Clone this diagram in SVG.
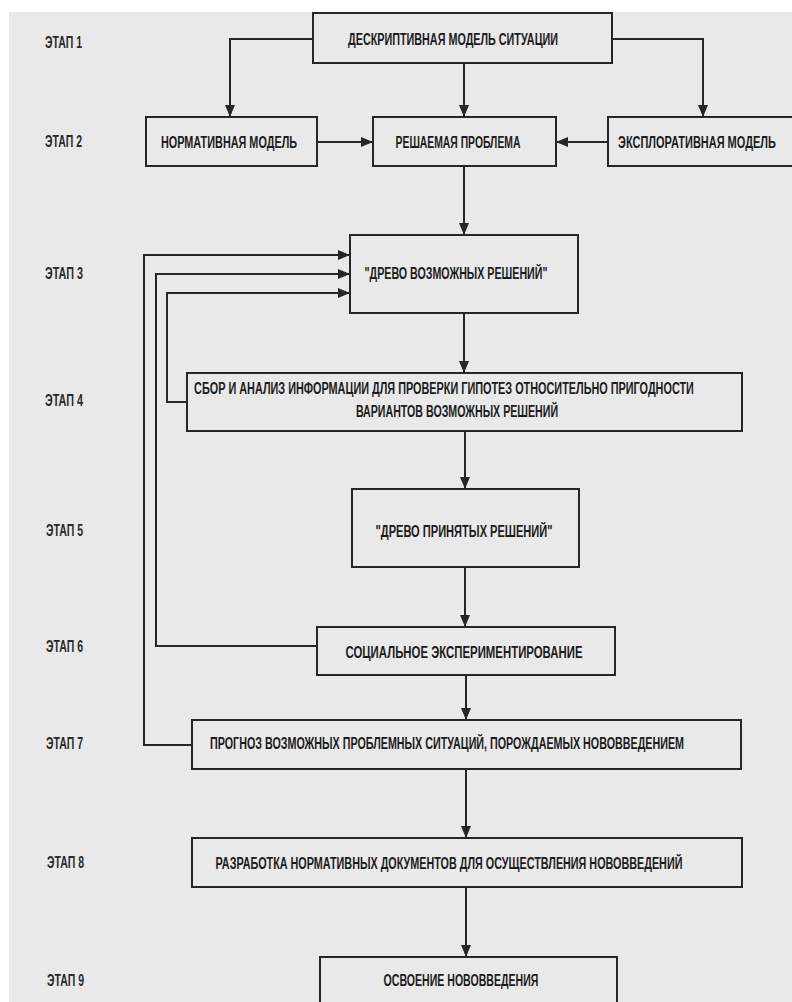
<svg xmlns="http://www.w3.org/2000/svg" width="792" height="1002" viewBox="0 0 792 1002">
<style>
.bg{fill:#e9e9e9}
.box{fill:none;stroke:#262626;stroke-width:2}
.c{fill:none;stroke:#262626;stroke-width:2}
.t{font-family:"Liberation Sans",Arial,sans-serif;font-weight:bold;font-size:17px;fill:#1c1c1c;text-anchor:middle}
.s{font-family:"Liberation Sans",Arial,sans-serif;font-weight:bold;font-size:16px;fill:#2a2a2a}
</style>
<defs>
<marker id="ah" viewBox="0 0 12 10" refX="12" refY="5" markerWidth="12" markerHeight="10" markerUnits="userSpaceOnUse" orient="auto">
<path d="M0,0 L12,5 L0,10 z" fill="#262626"/>
</marker>
</defs>
<rect x="0" y="0" width="792" height="1002" fill="#ffffff"/>
<rect class="bg" x="9" y="12" width="783" height="990"/>

<g id="stages">
<text class="s" x="45" y="48" textLength="37" lengthAdjust="spacingAndGlyphs">ЭТАП 1</text>
<text class="s" x="45" y="147" textLength="37" lengthAdjust="spacingAndGlyphs">ЭТАП 2</text>
<text class="s" x="45" y="279" textLength="38" lengthAdjust="spacingAndGlyphs">ЭТАП 3</text>
<text class="s" x="45" y="406" textLength="38" lengthAdjust="spacingAndGlyphs">ЭТАП 4</text>
<text class="s" x="46" y="536" textLength="37" lengthAdjust="spacingAndGlyphs">ЭТАП 5</text>
<text class="s" x="46" y="652" textLength="37" lengthAdjust="spacingAndGlyphs">ЭТАП 6</text>
<text class="s" x="46" y="749" textLength="37" lengthAdjust="spacingAndGlyphs">ЭТАП 7</text>
<text class="s" x="47" y="868" textLength="37" lengthAdjust="spacingAndGlyphs">ЭТАП 8</text>
<text class="s" x="47" y="986" textLength="37" lengthAdjust="spacingAndGlyphs">ЭТАП 9</text>
</g>

<g id="connectors">
<path class="c" d="M313,39 H230 V117" marker-end="url(#ah)"/>
<path class="c" d="M464,63 V117" marker-end="url(#ah)"/>
<path class="c" d="M612,39 H703 V117" marker-end="url(#ah)"/>
<path class="c" d="M317,142 H373" marker-end="url(#ah)"/>
<path class="c" d="M608,142 H556" marker-end="url(#ah)"/>
<path class="c" d="M464,166 V235" marker-end="url(#ah)"/>
<path class="c" d="M187,402 H167 V293 H350" marker-end="url(#ah)"/>
<path class="c" d="M317,646 H156 V274 H350" marker-end="url(#ah)"/>
<path class="c" d="M192,745 H144 V255 H350" marker-end="url(#ah)"/>
<path class="c" d="M464,313 V373" marker-end="url(#ah)"/>
<path class="c" d="M465,431 V489" marker-end="url(#ah)"/>
<path class="c" d="M465,567 V627" marker-end="url(#ah)"/>
<path class="c" d="M466,675 V720" marker-end="url(#ah)"/>
<path class="c" d="M466,769 V838" marker-end="url(#ah)"/>
<path class="c" d="M466,887 V957" marker-end="url(#ah)"/>
</g>

<g id="n1">
<rect class="box" x="313" y="13" width="299" height="50"/>
<text class="t" transform="translate(453,45) scale(0.6,1)" x="0" y="0" textLength="350" lengthAdjust="spacingAndGlyphs">ДЕСКРИПТИВНАЯ МОДЕЛЬ СИТУАЦИИ</text>
</g>
<g id="n2">
<rect class="box" x="146" y="117" width="171" height="49"/>
<text class="t" transform="translate(229,148) scale(0.6,1)" x="0" y="0" textLength="227" lengthAdjust="spacingAndGlyphs">НОРМАТИВНАЯ МОДЕЛЬ</text>
</g>
<g id="n3">
<rect class="box" x="373" y="117" width="183" height="49"/>
<text class="t" transform="translate(458,148) scale(0.6,1)" x="0" y="0" textLength="208" lengthAdjust="spacingAndGlyphs">РЕШАЕМАЯ ПРОБЛЕМА</text>
</g>
<g id="n4">
<rect class="box" x="608" y="117" width="186" height="49"/>
<text class="t" transform="translate(697,148) scale(0.6,1)" x="0" y="0" textLength="263" lengthAdjust="spacingAndGlyphs">ЭКСПЛОРАТИВНАЯ МОДЕЛЬ</text>
</g>
<g id="n5">
<rect class="box" x="350" y="235" width="228" height="78"/>
<text class="t" transform="translate(456,279) scale(0.6,1)" x="0" y="0" textLength="305" lengthAdjust="spacingAndGlyphs">"ДРЕВО ВОЗМОЖНЫХ РЕШЕНИЙ"</text>
</g>
<g id="n6">
<rect class="box" x="187" y="373" width="555" height="58"/>
<text class="t" transform="translate(444,394) scale(0.6,1)" x="0" y="0" textLength="833" lengthAdjust="spacingAndGlyphs">СБОР И АНАЛИЗ ИНФОРМАЦИИ ДЛЯ ПРОВЕРКИ ГИПОТЕЗ ОТНОСИТЕЛЬНО ПРИГОДНОСТИ</text>
<text class="t" transform="translate(457,417) scale(0.6,1)" x="0" y="0" textLength="337" lengthAdjust="spacingAndGlyphs">ВАРИАНТОВ ВОЗМОЖНЫХ РЕШЕНИЙ</text>
</g>
<g id="n7">
<rect class="box" x="352" y="489" width="227" height="78"/>
<text class="t" transform="translate(464,537) scale(0.6,1)" x="0" y="0" textLength="295" lengthAdjust="spacingAndGlyphs">"ДРЕВО ПРИНЯТЫХ РЕШЕНИЙ"</text>
</g>
<g id="n8">
<rect class="box" x="317" y="627" width="298" height="48"/>
<text class="t" transform="translate(464,658) scale(0.6,1)" x="0" y="0" textLength="395" lengthAdjust="spacingAndGlyphs">СОЦИАЛЬНОЕ ЭКСПЕРИМЕНТИРОВАНИЕ</text>
</g>
<g id="n9">
<rect class="box" x="192" y="720" width="549" height="49"/>
<text class="t" transform="translate(447,749) scale(0.6,1)" x="0" y="0" textLength="790" lengthAdjust="spacingAndGlyphs">ПРОГНОЗ ВОЗМОЖНЫХ ПРОБЛЕМНЫХ СИТУАЦИЙ, ПОРОЖДАЕМЫХ НОВОВВЕДЕНИЕМ</text>
</g>
<g id="n10">
<rect class="box" x="192" y="838" width="550" height="49"/>
<text class="t" transform="translate(449,869) scale(0.6,1)" x="0" y="0" textLength="778" lengthAdjust="spacingAndGlyphs">РАЗРАБОТКА НОРМАТИВНЫХ ДОКУМЕНТОВ ДЛЯ ОСУЩЕСТВЛЕНИЯ НОВОВВЕДЕНИЙ</text>
</g>
<g id="n11">
<rect class="box" x="320" y="957" width="297" height="60"/>
<text class="t" transform="translate(461,986) scale(0.6,1)" x="0" y="0" textLength="258" lengthAdjust="spacingAndGlyphs">ОСВОЕНИЕ НОВОВВЕДЕНИЯ</text>
</g>
</svg>
